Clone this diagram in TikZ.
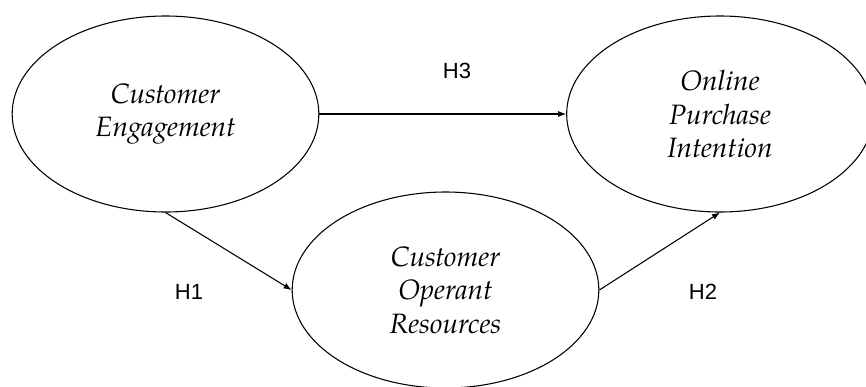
\documentclass[tikz,border=0pt]{standalone}
\usepackage{fontspec}
\setmainfont{TeX Gyre Pagella}
\newfontfamily\hypfont{Liberation Sans}
\usetikzlibrary{shapes.geometric,arrows.meta}

\begin{document}
\begin{tikzpicture}[x=0.75pt,y=-0.75pt,
    construct/.style={draw, ellipse, line width=0.8pt,
        minimum width=230pt, minimum height=147pt, inner sep=0pt,
        align=center, font=\fontsize{21}{25}\selectfont\itshape},
    hyp/.style={font=\hypfont\fontsize{16.5}{19}\selectfont},
    effect/.style={line width=0.8pt, -{Latex[length=6pt,width=4.5pt]}}]
    \clip (0,0) rectangle (866,386);

    % the three constructs
    \node [construct] (eng) at (165.5,114) {Customer\\Engagement};
    \node [construct] (opi) at (720,114) {Online\\Purchase\\Intention};
    \node [construct] (opr) at (445.5,290) {Customer\\Operant\\Resources};

    % hypothesised paths
    \draw [effect] (eng.east) -- (opi.west);
    \draw [effect] (eng.south) -- (opr.west);
    \draw [effect] (opr.east) -- (opi.south);

    \node [hyp] (h3) at (457,71) {H3};
    \node [hyp] (h1) at (189,292) {H1};
    \node [hyp] (h2) at (703,292) {H2};
\end{tikzpicture}
\end{document}
